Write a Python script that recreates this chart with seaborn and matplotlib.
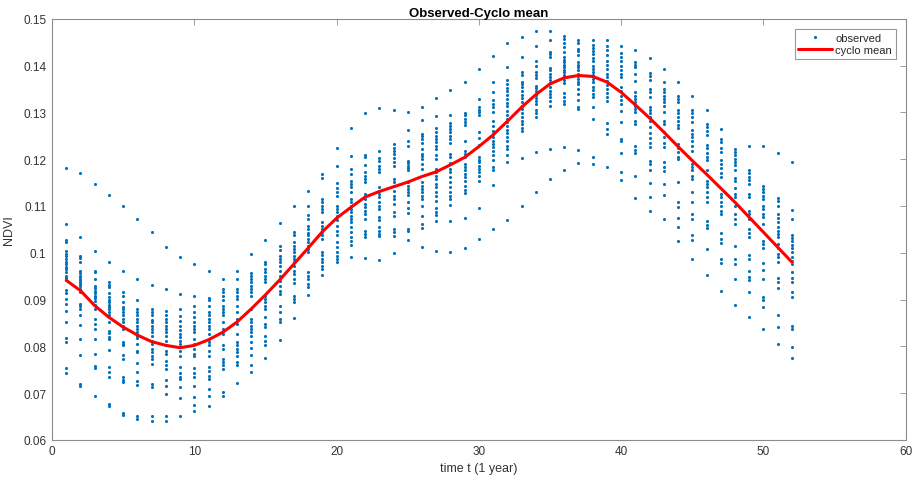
import numpy as np
import pandas as pd
import matplotlib
matplotlib.use("Agg")
import matplotlib.pyplot as plt
import seaborn as sns
from matplotlib.ticker import FuncFormatter
from matplotlib.lines import Line2D

# ---------------- data ----------------
weeks = list(range(1, 53))

cyclo_mean = [0.0941, 0.0919, 0.0887, 0.0862, 0.0841, 0.0824, 0.0810, 0.0802, 0.0797, 0.0802,
              0.0814, 0.0830, 0.0852, 0.0880, 0.0910, 0.0942, 0.0976, 0.1010, 0.1045, 0.1074,
              0.1097, 0.1119, 0.1131, 0.1141, 0.1151, 0.1163, 0.1173, 0.1188, 0.1204, 0.1227,
              0.1252, 0.1281, 0.1311, 0.1338, 0.1361, 0.1374, 0.1379, 0.1377, 0.1365, 0.1343,
              0.1316, 0.1288, 0.1258, 0.1227, 0.1197, 0.1168, 0.1138, 0.1108, 0.1076, 0.1044,
              0.1012, 0.0980]

obs_w01 = [0.1181, 0.1062, 0.1028, 0.1024, 0.1003, 0.0998, 0.0993, 0.0987, 0.0980, 0.0975, 0.0970, 0.0965, 0.0958, 0.0951, 0.0945, 0.0921, 0.0913, 0.0902, 0.0890, 0.0875, 0.0853, 0.0818, 0.0810, 0.0754, 0.0744]
obs_w02 = [0.1170, 0.1033, 0.0993, 0.0988, 0.0981, 0.0962, 0.0957, 0.0951, 0.0945, 0.0941, 0.0937, 0.0933, 0.0929, 0.0923, 0.0917, 0.0891, 0.0887, 0.0880, 0.0867, 0.0846, 0.0816, 0.0782, 0.0720, 0.0715]
obs_w03 = [0.1148, 0.1003, 0.0962, 0.0958, 0.0943, 0.0930, 0.0924, 0.0919, 0.0914, 0.0908, 0.0903, 0.0896, 0.0888, 0.0880, 0.0859, 0.0848, 0.0837, 0.0816, 0.0783, 0.0757, 0.0753, 0.0693]
obs_w04 = [0.1124, 0.0980, 0.0937, 0.0931, 0.0926, 0.0914, 0.0905, 0.0900, 0.0894, 0.0888, 0.0884, 0.0880, 0.0873, 0.0866, 0.0853, 0.0832, 0.0828, 0.0819, 0.0816, 0.0793, 0.0755, 0.0745, 0.0734, 0.0677, 0.0672]
obs_w05 = [0.1099, 0.0960, 0.0917, 0.0908, 0.0894, 0.0884, 0.0880, 0.0873, 0.0866, 0.0859, 0.0852, 0.0844, 0.0837, 0.0809, 0.0805, 0.0802, 0.0782, 0.0772, 0.0734, 0.0729, 0.0723, 0.0657, 0.0654]
obs_w06 = [0.1072, 0.0944, 0.0900, 0.0880, 0.0873, 0.0866, 0.0859, 0.0852, 0.0844, 0.0837, 0.0830, 0.0823, 0.0817, 0.0805, 0.0791, 0.0787, 0.0765, 0.0746, 0.0725, 0.0718, 0.0651, 0.0645]
obs_w07 = [0.1044, 0.0932, 0.0880, 0.0873, 0.0866, 0.0857, 0.0852, 0.0844, 0.0837, 0.0830, 0.0823, 0.0812, 0.0805, 0.0794, 0.0787, 0.0780, 0.0773, 0.0762, 0.0720, 0.0713, 0.0651, 0.0641]
obs_w08 = [0.1012, 0.0922, 0.0876, 0.0867, 0.0859, 0.0852, 0.0844, 0.0837, 0.0830, 0.0823, 0.0812, 0.0802, 0.0791, 0.0784, 0.0769, 0.0760, 0.0752, 0.0729, 0.0715, 0.0698, 0.0651, 0.0641]
obs_w09 = [0.0990, 0.0911, 0.0880, 0.0864, 0.0855, 0.0844, 0.0834, 0.0826, 0.0819, 0.0812, 0.0805, 0.0798, 0.0791, 0.0780, 0.0755, 0.0743, 0.0734, 0.0730, 0.0713, 0.0690, 0.0652]
obs_w10 = [0.0976, 0.0908, 0.0887, 0.0873, 0.0862, 0.0852, 0.0844, 0.0837, 0.0831, 0.0816, 0.0805, 0.0794, 0.0784, 0.0780, 0.0753, 0.0743, 0.0734, 0.0716, 0.0691, 0.0675, 0.0661]
obs_w11 = [0.0962, 0.0903, 0.0898, 0.0887, 0.0873, 0.0866, 0.0859, 0.0852, 0.0844, 0.0837, 0.0826, 0.0816, 0.0809, 0.0802, 0.0791, 0.0780, 0.0755, 0.0748, 0.0737, 0.0730, 0.0709, 0.0693, 0.0673]
obs_w12 = [0.0944, 0.0923, 0.0916, 0.0908, 0.0898, 0.0887, 0.0880, 0.0873, 0.0866, 0.0852, 0.0837, 0.0826, 0.0802, 0.0794, 0.0773, 0.0766, 0.0759, 0.0752, 0.0702, 0.0693]
obs_w13 = [0.0962, 0.0943, 0.0923, 0.0916, 0.0908, 0.0901, 0.0887, 0.0873, 0.0859, 0.0848, 0.0826, 0.0809, 0.0802, 0.0794, 0.0787, 0.0780, 0.0766, 0.0759, 0.0722]
obs_w14 = [0.0997, 0.0956, 0.0951, 0.0944, 0.0937, 0.0930, 0.0923, 0.0916, 0.0908, 0.0880, 0.0859, 0.0852, 0.0844, 0.0837, 0.0830, 0.0822, 0.0809, 0.0796, 0.0782, 0.0759, 0.0745]
obs_w15 = [0.1028, 0.0981, 0.0976, 0.0965, 0.0958, 0.0951, 0.0944, 0.0937, 0.0908, 0.0901, 0.0894, 0.0887, 0.0880, 0.0862, 0.0848, 0.0841, 0.0823, 0.0812, 0.0803, 0.0774]
obs_w16 = [0.1063, 0.1015, 0.1005, 0.0994, 0.0987, 0.0980, 0.0972, 0.0962, 0.0951, 0.0940, 0.0930, 0.0919, 0.0912, 0.0887, 0.0873, 0.0859, 0.0852, 0.0814]
obs_w17 = [0.1099, 0.1044, 0.1038, 0.1022, 0.1015, 0.1008, 0.1001, 0.0994, 0.0987, 0.0980, 0.0972, 0.0962, 0.0955, 0.0944, 0.0935, 0.0908, 0.0901, 0.0894, 0.0860]
obs_w18 = [0.1131, 0.1099, 0.1081, 0.1072, 0.1058, 0.1051, 0.1042, 0.1037, 0.1029, 0.1022, 0.1015, 0.1008, 0.1001, 0.0958, 0.0951, 0.0944, 0.0933, 0.0926, 0.0910]
obs_w19 = [0.1168, 0.1159, 0.1115, 0.1108, 0.1101, 0.1094, 0.1087, 0.1065, 0.1058, 0.1051, 0.1044, 0.1037, 0.1029, 0.1002, 0.0995, 0.0987, 0.0980, 0.0972, 0.0965, 0.0953]
obs_w20 = [0.1224, 0.1186, 0.1149, 0.1138, 0.1129, 0.1122, 0.1099, 0.1094, 0.1087, 0.1079, 0.1069, 0.1058, 0.1047, 0.1037, 0.1022, 0.1012, 0.1001, 0.0994, 0.0987, 0.0981]
obs_w21 = [0.1266, 0.1206, 0.1179, 0.1168, 0.1154, 0.1147, 0.1140, 0.1129, 0.1115, 0.1108, 0.1101, 0.1094, 0.1087, 0.1079, 0.1072, 0.1065, 0.1055, 0.1044, 0.1033, 0.1026, 0.1017, 0.0990]
obs_w22 = [0.1299, 0.1209, 0.1204, 0.1188, 0.1172, 0.1165, 0.1158, 0.1151, 0.1126, 0.1115, 0.1104, 0.1097, 0.1090, 0.1083, 0.1072, 0.1047, 0.1040, 0.1033, 0.0989]
obs_w23 = [0.1309, 0.1218, 0.1202, 0.1197, 0.1186, 0.1179, 0.1172, 0.1140, 0.1133, 0.1126, 0.1119, 0.1108, 0.1101, 0.1094, 0.1076, 0.1069, 0.1055, 0.1047, 0.1040, 0.1035, 0.0984]
obs_w24 = [0.1306, 0.1232, 0.1225, 0.1218, 0.1211, 0.1202, 0.1193, 0.1186, 0.1158, 0.1151, 0.1143, 0.1133, 0.1122, 0.1115, 0.1104, 0.1087, 0.1079, 0.1051, 0.1045, 0.1035, 0.0999]
obs_w25 = [0.1301, 0.1262, 0.1240, 0.1229, 0.1197, 0.1192, 0.1186, 0.1181, 0.1176, 0.1152, 0.1143, 0.1136, 0.1129, 0.1124, 0.1109, 0.1095, 0.1085, 0.1051, 0.1047, 0.1027]
obs_w26 = [0.1311, 0.1283, 0.1254, 0.1249, 0.1243, 0.1235, 0.1222, 0.1211, 0.1206, 0.1200, 0.1190, 0.1179, 0.1151, 0.1143, 0.1136, 0.1129, 0.1122, 0.1115, 0.1099, 0.1078, 0.1062, 0.1052, 0.1012]
obs_w27 = [0.1330, 0.1292, 0.1266, 0.1259, 0.1250, 0.1243, 0.1236, 0.1229, 0.1222, 0.1208, 0.1200, 0.1179, 0.1172, 0.1165, 0.1158, 0.1147, 0.1140, 0.1129, 0.1122, 0.1110, 0.1095, 0.1088, 0.1081, 0.1067, 0.1004]
obs_w28 = [0.1349, 0.1295, 0.1277, 0.1270, 0.1265, 0.1259, 0.1250, 0.1243, 0.1235, 0.1211, 0.1204, 0.1192, 0.1179, 0.1172, 0.1161, 0.1151, 0.1140, 0.1129, 0.1121, 0.1116, 0.1102, 0.1067, 0.1001]
obs_w29 = [0.1366, 0.1299, 0.1295, 0.1287, 0.1280, 0.1273, 0.1240, 0.1218, 0.1211, 0.1204, 0.1190, 0.1183, 0.1176, 0.1168, 0.1161, 0.1154, 0.1143, 0.1135, 0.1128, 0.1074, 0.1010]
obs_w30 = [0.1392, 0.1329, 0.1311, 0.1306, 0.1300, 0.1295, 0.1258, 0.1245, 0.1230, 0.1204, 0.1199, 0.1193, 0.1186, 0.1179, 0.1172, 0.1165, 0.1153, 0.1095, 0.1030]
obs_w31 = [0.1420, 0.1366, 0.1343, 0.1326, 0.1319, 0.1312, 0.1300, 0.1282, 0.1272, 0.1261, 0.1254, 0.1247, 0.1240, 0.1233, 0.1226, 0.1218, 0.1208, 0.1198, 0.1184, 0.1176, 0.1145, 0.1050]
obs_w32 = [0.1448, 0.1398, 0.1369, 0.1360, 0.1352, 0.1346, 0.1337, 0.1329, 0.1320, 0.1314, 0.1304, 0.1295, 0.1286, 0.1279, 0.1272, 0.1262, 0.1255, 0.1247, 0.1240, 0.1229, 0.1222, 0.1208, 0.1193, 0.1070]
obs_w33 = [0.1462, 0.1419, 0.1386, 0.1381, 0.1366, 0.1361, 0.1354, 0.1346, 0.1338, 0.1331, 0.1322, 0.1314, 0.1307, 0.1298, 0.1290, 0.1282, 0.1275, 0.1267, 0.1260, 0.1203, 0.1099]
obs_w34 = [0.1474, 0.1442, 0.1409, 0.1400, 0.1386, 0.1379, 0.1374, 0.1357, 0.1352, 0.1346, 0.1338, 0.1331, 0.1324, 0.1317, 0.1305, 0.1298, 0.1291, 0.1215, 0.1129]
obs_w35 = [0.1475, 0.1455, 0.1429, 0.1424, 0.1418, 0.1395, 0.1390, 0.1382, 0.1375, 0.1369, 0.1362, 0.1354, 0.1346, 0.1339, 0.1332, 0.1324, 0.1314, 0.1222, 0.1158]
obs_w36 = [0.1464, 0.1457, 0.1448, 0.1440, 0.1429, 0.1418, 0.1412, 0.1407, 0.1402, 0.1397, 0.1391, 0.1386, 0.1381, 0.1375, 0.1369, 0.1362, 0.1341, 0.1332, 0.1324, 0.1318, 0.1227, 0.1178]
obs_w37 = [0.1454, 0.1448, 0.1436, 0.1431, 0.1422, 0.1407, 0.1402, 0.1397, 0.1390, 0.1382, 0.1377, 0.1372, 0.1366, 0.1361, 0.1350, 0.1339, 0.1326, 0.1311, 0.1307, 0.1220, 0.1191]
obs_w38 = [0.1454, 0.1445, 0.1438, 0.1431, 0.1424, 0.1417, 0.1410, 0.1400, 0.1393, 0.1386, 0.1379, 0.1372, 0.1365, 0.1355, 0.1348, 0.1339, 0.1334, 0.1312, 0.1286, 0.1204, 0.1190]
obs_w39 = [0.1454, 0.1442, 0.1433, 0.1422, 0.1411, 0.1402, 0.1393, 0.1382, 0.1375, 0.1368, 0.1359, 0.1350, 0.1341, 0.1332, 0.1324, 0.1277, 0.1265, 0.1254, 0.1183]
obs_w40 = [0.1443, 0.1427, 0.1418, 0.1411, 0.1400, 0.1391, 0.1382, 0.1375, 0.1354, 0.1346, 0.1336, 0.1326, 0.1318, 0.1304, 0.1280, 0.1243, 0.1238, 0.1213, 0.1173, 0.1156]
obs_w41 = [0.1433, 0.1407, 0.1402, 0.1397, 0.1382, 0.1368, 0.1343, 0.1336, 0.1329, 0.1322, 0.1314, 0.1307, 0.1300, 0.1282, 0.1275, 0.1229, 0.1220, 0.1213, 0.1165, 0.1117]
obs_w42 = [0.1416, 0.1384, 0.1377, 0.1369, 0.1350, 0.1343, 0.1334, 0.1312, 0.1305, 0.1298, 0.1290, 0.1281, 0.1268, 0.1255, 0.1245, 0.1234, 0.1226, 0.1197, 0.1190, 0.1177, 0.1149, 0.1119, 0.1089]
obs_w43 = [0.1393, 0.1366, 0.1350, 0.1343, 0.1336, 0.1329, 0.1322, 0.1314, 0.1302, 0.1282, 0.1275, 0.1258, 0.1247, 0.1234, 0.1226, 0.1193, 0.1183, 0.1174, 0.1148, 0.1124, 0.1072]
obs_w44 = [0.1365, 0.1336, 0.1329, 0.1322, 0.1305, 0.1298, 0.1290, 0.1281, 0.1274, 0.1267, 0.1233, 0.1224, 0.1215, 0.1205, 0.1200, 0.1151, 0.1108, 0.1097, 0.1074, 0.1055, 0.1025]
obs_w45 = [0.1336, 0.1305, 0.1298, 0.1291, 0.1279, 0.1262, 0.1254, 0.1247, 0.1240, 0.1229, 0.1218, 0.1190, 0.1183, 0.1176, 0.1165, 0.1158, 0.1129, 0.1108, 0.1083, 0.1072, 0.1037, 0.1027, 0.0987]
obs_w46 = [0.1306, 0.1275, 0.1268, 0.1261, 0.1252, 0.1231, 0.1224, 0.1213, 0.1204, 0.1198, 0.1176, 0.1154, 0.1147, 0.1140, 0.1129, 0.1120, 0.1108, 0.1067, 0.1060, 0.1053, 0.1008, 0.0953]
obs_w47 = [0.1265, 0.1243, 0.1236, 0.1224, 0.1215, 0.1198, 0.1190, 0.1181, 0.1170, 0.1163, 0.1126, 0.1119, 0.1108, 0.1099, 0.1090, 0.1083, 0.1042, 0.1029, 0.1020, 0.0987, 0.0978, 0.0919]
obs_w48 = [0.1222, 0.1215, 0.1208, 0.1200, 0.1193, 0.1188, 0.1176, 0.1160, 0.1153, 0.1139, 0.1126, 0.1119, 0.1101, 0.1083, 0.1072, 0.1062, 0.1015, 0.0987, 0.0976, 0.0944, 0.0889]
obs_w49 = [0.1229, 0.1177, 0.1170, 0.1163, 0.1156, 0.1147, 0.1126, 0.1119, 0.1090, 0.1083, 0.1072, 0.1051, 0.1042, 0.1033, 0.0996, 0.0987, 0.0962, 0.0948, 0.0942, 0.0917, 0.0862]
obs_w50 = [0.1229, 0.1143, 0.1136, 0.1129, 0.1122, 0.1115, 0.1101, 0.1094, 0.1083, 0.1076, 0.1062, 0.1026, 0.1019, 0.1010, 0.0978, 0.0963, 0.0944, 0.0905, 0.0899, 0.0885, 0.0836]
obs_w51 = [0.1213, 0.1117, 0.1111, 0.1099, 0.1083, 0.1074, 0.1065, 0.1055, 0.1047, 0.1040, 0.1033, 0.1019, 0.1010, 0.0997, 0.0990, 0.0980, 0.0946, 0.0937, 0.0924, 0.0868, 0.0842, 0.0805]
obs_w52 = [0.1193, 0.1091, 0.1072, 0.1039, 0.1032, 0.1025, 0.1017, 0.1010, 0.1001, 0.0990, 0.0982, 0.0975, 0.0958, 0.0946, 0.0937, 0.0916, 0.0906, 0.0844, 0.0837, 0.0799, 0.0775]

observed = [obs_w01, obs_w02, obs_w03, obs_w04, obs_w05, obs_w06, obs_w07, obs_w08, obs_w09, obs_w10,
            obs_w11, obs_w12, obs_w13, obs_w14, obs_w15, obs_w16, obs_w17, obs_w18, obs_w19, obs_w20,
            obs_w21, obs_w22, obs_w23, obs_w24, obs_w25, obs_w26, obs_w27, obs_w28, obs_w29, obs_w30,
            obs_w31, obs_w32, obs_w33, obs_w34, obs_w35, obs_w36, obs_w37, obs_w38, obs_w39, obs_w40,
            obs_w41, obs_w42, obs_w43, obs_w44, obs_w45, obs_w46, obs_w47, obs_w48, obs_w49, obs_w50,
            obs_w51, obs_w52]

x_ticks = [0, 10, 20, 30, 40, 50, 60]
y_ticks = [0.06, 0.07, 0.08, 0.09, 0.10, 0.11, 0.12, 0.13, 0.14, 0.15]

# ---------------- tables ----------------
obs_df = pd.DataFrame({
    "t": [w for w, vals in zip(weeks, observed) for _ in vals],
    "ndvi": [v for vals in observed for v in vals],
})
mean_df = pd.DataFrame({"t": weeks, "ndvi": cyclo_mean})

# ---------------- style ----------------
sns.set_style("white")
plt.rcParams["font.family"] = ["Liberation Sans", "DejaVu Sans"]

fig = plt.figure(figsize=(9.13, 4.85), dpi=100)
ax = fig.add_axes([0.057, 0.091, 0.935, 0.868])

blue = "#0072BD"
sns.scatterplot(data=obs_df, x="t", y="ndvi", ax=ax, color=blue, s=5,
                linewidth=0, marker="o", legend=False, zorder=2)
sns.lineplot(data=mean_df, x="t", y="ndvi", ax=ax, color="#FF0000",
             linewidth=2.2, legend=False, zorder=3)

ax.set_xlim(0, 60)
ax.set_ylim(0.06, 0.15)
ax.set_xticks(x_ticks)
ax.set_yticks(y_ticks)
ax.yaxis.set_major_formatter(FuncFormatter(lambda v, p: f"{v:g}"))

axc = "#8c8c8c"
for s in ax.spines.values():
    s.set_visible(True)
    s.set_color(axc)
    s.set_linewidth(0.8)
ax.tick_params(direction="in", length=4, width=0.6, color=axc,
               top=True, right=True, labelsize=8.5, labelcolor="#333333", pad=4)

ax.set_xlabel("time t (1 year)", fontsize=9, color="#333333", labelpad=3)
ax.set_ylabel("NDVI", fontsize=9, color="#333333", labelpad=6)
ax.set_title("Observed-Cyclo mean", fontsize=9.5, fontweight="bold", color="#000000", pad=2)

handles = [
    Line2D([0], [0], marker="o", color="none", markerfacecolor=blue,
           markeredgewidth=0, markersize=2.3, label="observed"),
    Line2D([0], [0], color="#FF0000", linewidth=2.2, label="cyclo mean"),
]
leg = ax.legend(handles=handles, loc="upper right", fontsize=8, frameon=True,
                fancybox=False, edgecolor="#999999", framealpha=1,
                borderaxespad=0.9, handlelength=3.0, handletextpad=0.3,
                borderpad=0.35, labelspacing=0.2)
leg.get_frame().set_linewidth(0.8)

fig.savefig("out.png", dpi=100, facecolor="white")
